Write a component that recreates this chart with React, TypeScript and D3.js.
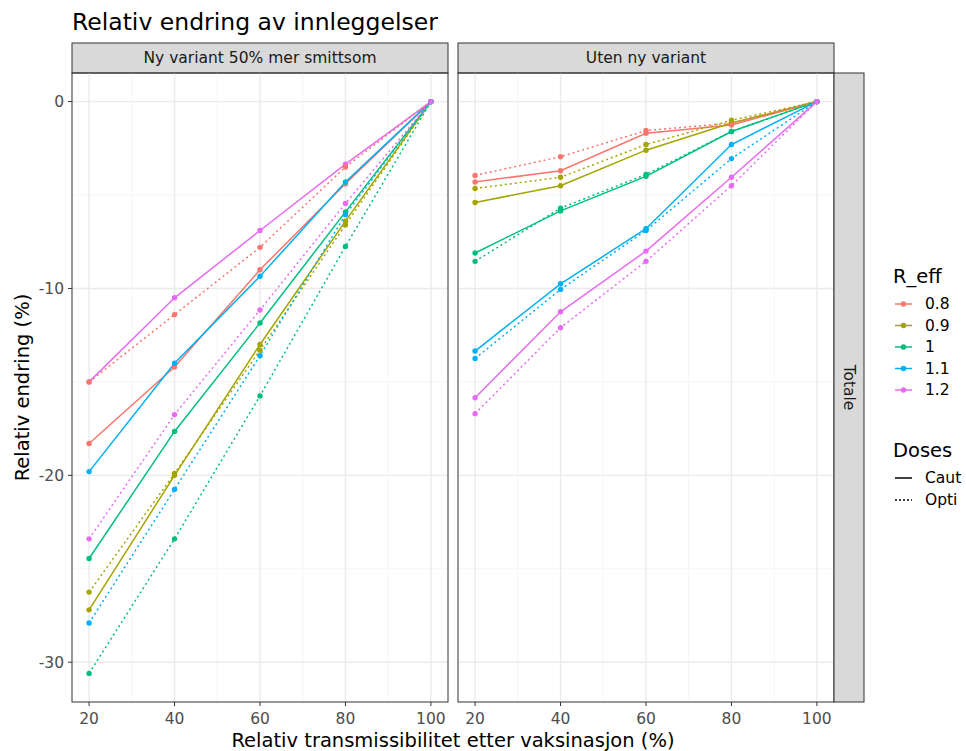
import React from "react";
import * as d3 from "d3";

const xVals = [20, 40, 60, 80, 100];
const rEffLevels = ["0.8", "0.9", "1", "1.1", "1.2"];
const doseLevels = ["Caut", "Opti"];
const panels = ["Ny variant 50% mer smittsom", "Uten ny variant"];
const rowStrip = "Totale";
const xTicks = [20, 40, 60, 80, 100];
const yTicks = [0, -10, -20, -30];

// Ny variant 50% mer smittsom
const nyCaut = [
  [-18.3, -14.2, -9.0, -4.4, 0],
  [-27.2, -20.0, -13.0, -6.4, 0],
  [-24.45, -17.65, -11.85, -5.9, 0],
  [-19.8, -14.0, -9.35, -4.3, 0],
  [-15.0, -10.5, -6.9, -3.35, 0],
];
const nyOpti = [
  [-15.0, -11.4, -7.8, -3.5, 0],
  [-26.25, -19.9, -13.3, -6.6, 0],
  [-30.6, -23.4, -15.75, -7.75, 0],
  [-27.9, -20.75, -13.6, -6.05, 0],
  [-23.4, -16.75, -11.15, -5.45, 0],
];
// Uten ny variant
const utenCaut = [
  [-4.3, -3.7, -1.7, -1.25, 0],
  [-5.4, -4.5, -2.6, -1.15, 0],
  [-8.1, -5.85, -4.0, -1.6, 0],
  [-13.35, -9.75, -6.8, -2.3, 0],
  [-15.85, -11.25, -8.0, -4.05, 0],
];
const utenOpti = [
  [-3.95, -2.95, -1.55, -1.15, 0],
  [-4.65, -4.05, -2.3, -1.0, 0],
  [-8.55, -5.7, -3.9, -1.6, 0],
  [-13.75, -10.05, -6.9, -3.05, 0],
  [-16.7, -12.1, -8.55, -4.5, 0],
];

const colors = ["#F8766D", "#A3A500", "#00BF7D", "#00B0F6", "#E76BF3"];
const FONT = "DejaVu Sans, sans-serif";

export default function App() {
  const W = 966, H = 751;
  const plotTop = 73, plotBottom = 702;
  const panelX = [
    [72, 448],
    [458, 834],
  ];
  const stripTop = 43;
  const y = d3.scaleLinear().domain([-32.13, 1.53]).range([plotBottom, plotTop]);
  const dataByPanel = [
    [nyCaut, nyOpti],
    [utenCaut, utenOpti],
  ];
  const minorY = [-5, -15, -25];
  const minorX = [30, 50, 70, 90];

  return (
    <svg width={W} height={H} style={{ position: "absolute", left: 0, top: 0, background: "#fff" }} fontFamily={FONT}>
      <rect width={W} height={H} fill="#fff" />
      <text x={72} y={30} fontSize={23.5} fill="#000">Relativ endring av innleggelser</text>
      {panels.map((name, pi) => {
        const [x0, x1] = panelX[pi];
        const x = d3.scaleLinear().domain([16, 104]).range([x0, x1]);
        const line = d3.line<number>().x((_, i) => x(xVals[i])).y((v) => y(v));
        const [caut, opti] = dataByPanel[pi];
        return (
          <g key={name}>
            {/* strip */}
            <rect x={x0} y={stripTop} width={x1 - x0} height={plotTop - stripTop} fill="#D9D9D9" stroke="#333" strokeWidth={1} />
            <text x={(x0 + x1) / 2} y={(stripTop + plotTop) / 2} dy="0.35em" textAnchor="middle" fontSize={15.5} fill="#1A1A1A">{name}</text>
            {/* grid */}
            {minorY.map((t) => (
              <line key={"my" + t} x1={x0} x2={x1} y1={y(t)} y2={y(t)} stroke="#F2F2F2" strokeWidth={0.8} />
            ))}
            {minorX.map((t) => (
              <line key={"mx" + t} x1={x(t)} x2={x(t)} y1={plotTop} y2={plotBottom} stroke="#F2F2F2" strokeWidth={0.8} />
            ))}
            {yTicks.map((t) => (
              <line key={"gy" + t} x1={x0} x2={x1} y1={y(t)} y2={y(t)} stroke="#EBEBEB" strokeWidth={1.4} />
            ))}
            {xTicks.map((t) => (
              <line key={"gx" + t} x1={x(t)} x2={x(t)} y1={plotTop} y2={plotBottom} stroke="#EBEBEB" strokeWidth={1.4} />
            ))}
            {/* lines */}
            {[caut, opti].map((series, di) =>
              series.map((vals, ri) => (
                <path key={"l" + di + ri} d={line(vals) || ""} fill="none" stroke={colors[ri]} strokeWidth={1.5}
                  strokeDasharray={di === 1 ? "2 3" : undefined} />
              ))
            )}
            {[caut, opti].map((series, di) =>
              series.map((vals, ri) =>
                vals.map((v, i) => (
                  <circle key={"p" + di + ri + i} cx={x(xVals[i])} cy={y(v)} r={2.7} fill={colors[ri]} />
                ))
              )
            )}
            {/* border */}
            <rect x={x0} y={plotTop} width={x1 - x0} height={plotBottom - plotTop} fill="none" stroke="#333" strokeWidth={1} />
            {/* x axis */}
            {xTicks.map((t) => (
              <g key={"xt" + t}>
                <line x1={x(t)} x2={x(t)} y1={plotBottom} y2={plotBottom + 4} stroke="#333" strokeWidth={1} />
                <text x={x(t)} y={plotBottom + 17} dy="0.35em" textAnchor="middle" fontSize={15.5} fill="#4D4D4D">{t}</text>
              </g>
            ))}
            {pi === 0 &&
              yTicks.map((t) => (
                <g key={"yt" + t}>
                  <line x1={x0 - 4} x2={x0} y1={y(t)} y2={y(t)} stroke="#333" strokeWidth={1} />
                  <text x={x0 - 8} y={y(t)} dy="0.35em" textAnchor="end" fontSize={15.5} fill="#4D4D4D">{t}</text>
                </g>
              ))}
          </g>
        );
      })}
      {/* row strip */}
      <rect x={834} y={plotTop} width={30} height={plotBottom - plotTop} fill="#D9D9D9" stroke="#333" strokeWidth={1} />
      <text transform={`translate(849,${(plotTop + plotBottom) / 2}) rotate(90)`} dy="0.35em" textAnchor="middle" fontSize={15.5} fill="#1A1A1A">{rowStrip}</text>
      {/* axis titles */}
      <text x={453} y={740} dy="0.35em" textAnchor="middle" fontSize={19.5} fill="#000">Relativ transmissibilitet etter vaksinasjon (%)</text>
      <text transform={`translate(22,${(plotTop + plotBottom) / 2}) rotate(-90)`} dy="0.35em" textAnchor="middle" fontSize={19.5} fill="#000">Relativ endring (%)</text>
      {/* legend R_eff */}
      <text x={893} y={283} fontSize={19.5} fill="#000">R_eff</text>
      {rEffLevels.map((lv, i) => {
        const cy = 304 + i * 21.5;
        return (
          <g key={lv}>
            <line x1={895} x2={912} y1={cy} y2={cy} stroke={colors[i]} strokeWidth={1.5} />
            <circle cx={903.5} cy={cy} r={2.7} fill={colors[i]} />
            <text x={925} y={cy} dy="0.35em" fontSize={15.5} fill="#000">{lv}</text>
          </g>
        );
      })}
      {/* legend Doses */}
      <text x={893} y={457} fontSize={19.5} fill="#000">Doses</text>
      {doseLevels.map((lv, i) => {
        const cy = 478 + i * 22;
        return (
          <g key={lv}>
            <line x1={895} x2={912} y1={cy} y2={cy} stroke="#000" strokeWidth={1.5} strokeDasharray={i === 1 ? "2 2" : undefined} />
            <text x={925} y={cy} dy="0.35em" fontSize={15.5} fill="#000">{lv}</text>
          </g>
        );
      })}
    </svg>
  );
}
